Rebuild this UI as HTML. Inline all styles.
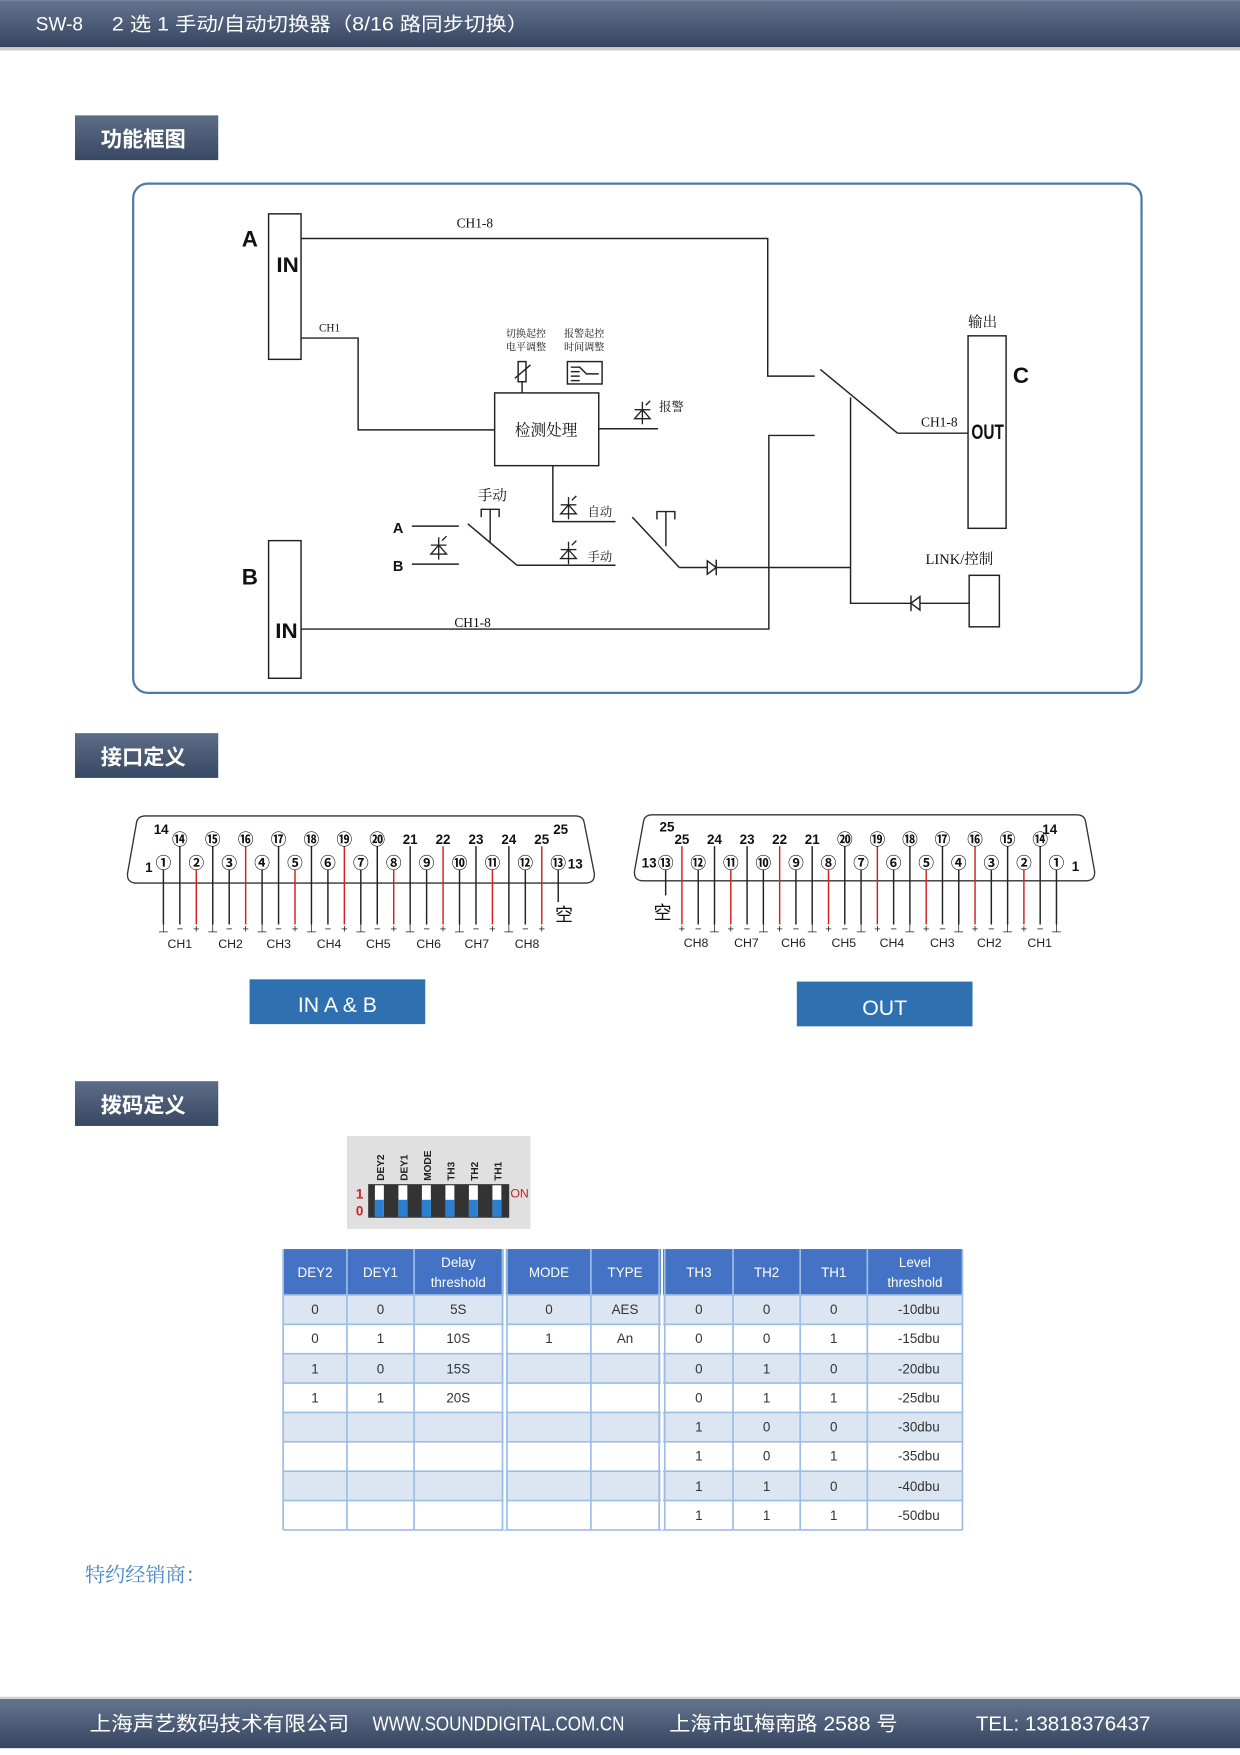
<!DOCTYPE html>
<html><head><meta charset="utf-8"><style>
html,body{margin:0;padding:0;background:#fff;}
svg{display:block;}
.t{font-family:"Liberation Sans","Noto Sans CJK SC",sans-serif;}
.s{font-family:"Liberation Serif","Noto Serif CJK SC",serif;}
.n{font-family:"Liberation Sans Narrow","Liberation Sans","Noto Sans CJK SC",sans-serif;}
</style></head><body>
<svg width="1240" height="1755" viewBox="0 0 1108 1568" xmlns="http://www.w3.org/2000/svg">
<defs>
<linearGradient id="bar" x1="0" y1="0" x2="0" y2="1"><stop offset="0" stop-color="#66758f"/><stop offset="1" stop-color="#36455f"/></linearGradient>
<linearGradient id="sec" x1="0" y1="0" x2="0" y2="1"><stop offset="0" stop-color="#5d6d88"/><stop offset="1" stop-color="#384863"/></linearGradient>
</defs>
<!-- header -->
<rect x="0" y="0" width="1108" height="42" fill="url(#bar)"/>
<rect x="0" y="42" width="1108" height="3" fill="#aaa" opacity="0.6"/>
<text x="32" y="27" class="n" font-size="17" fill="#fff">SW-8</text>
<text x="100" y="27" class="n" font-size="17" fill="#fff" textLength="372" lengthAdjust="spacingAndGlyphs">2 选 1 手动/自动切换器（8/16 路同步切换）</text>
<!-- section boxes -->
<rect x="67" y="103" width="128" height="40" fill="url(#sec)"/>
<text x="90" y="131" class="t" font-size="19" font-weight="bold" fill="#fff">功能框图</text>
<rect x="67" y="655" width="128" height="40" fill="url(#sec)"/>
<text x="90" y="683" class="t" font-size="19" font-weight="bold" fill="#fff">接口定义</text>
<rect x="67" y="966" width="128" height="40" fill="url(#sec)"/>
<text x="90" y="994" class="t" font-size="19" font-weight="bold" fill="#fff">拨码定义</text>

<!-- diagram frame -->
<rect x="119" y="164" width="901" height="455" rx="13" fill="none" stroke="#4f7aa8" stroke-width="2"/>
<g stroke="#222" stroke-width="1.3" fill="none">
<rect x="240" y="191" width="29" height="130"/>
<rect x="240" y="483" width="29" height="123"/>
<rect x="865" y="300" width="34" height="172"/>
<rect x="866" y="514" width="27" height="46"/>
<rect x="442" y="351" width="93" height="65"/>
<polyline points="269,213 686,213 686,336 728,336"/>
<polyline points="269,302 320,302 320,384 442,384"/>
<polyline points="269,562 687,562 687,389 728,389"/>
<line x1="535" y1="383" x2="588" y2="383"/>
<polyline points="494,416 494,466 550,466"/>
<line x1="368" y1="470" x2="410" y2="470"/>
<line x1="368" y1="504" x2="410" y2="504"/>
<line x1="418" y1="468" x2="462" y2="505"/>
<line x1="462" y1="505" x2="550" y2="505"/>
<polyline points="430,462 430,455 446,455 446,462"/>
<line x1="438" y1="455" x2="438" y2="484"/>
<line x1="565" y1="462" x2="607" y2="507"/>
<polyline points="587,464 587,457 603,457 603,464"/>
<line x1="595" y1="457" x2="595" y2="488"/>
<line x1="607" y1="507" x2="760" y2="507"/>
<line x1="733" y1="330" x2="802" y2="387"/>
<line x1="802" y1="387" x2="865" y2="387"/>
<polyline points="760,355 760,539 866,539"/>
<polygon points="632,501 632,513 640,507" fill="#fff"/><line x1="640" y1="500" x2="640" y2="514"/>
<polygon points="822,533 822,545 814,539" fill="#fff"/><line x1="814" y1="532" x2="814" y2="546"/>
<rect x="463" y="323" width="7" height="18"/><line x1="466.5" y1="341" x2="466.5" y2="351"/><line x1="460" y1="338" x2="474" y2="326"/>
<rect x="507" y="323" width="31" height="20"/>
<polyline points="510,328 518,328 524,334 535,334"/><line x1="510" y1="332" x2="518" y2="332"/><line x1="510" y1="336" x2="518" y2="336"/><line x1="510" y1="340" x2="518" y2="340"/>
</g>
<g stroke="#222" stroke-width="1.2" fill="none">
<g transform="translate(574,369)"><line x1="0" y1="-10" x2="0" y2="10"/><line x1="-7" y1="-3" x2="7" y2="-3"/><polygon points="-7,5 7,5 0,-3"/><line x1="3" y1="-7" x2="7" y2="-11"/></g>
<g transform="translate(508,454)"><line x1="0" y1="-10" x2="0" y2="10"/><line x1="-7" y1="-3" x2="7" y2="-3"/><polygon points="-7,5 7,5 0,-3"/><line x1="3" y1="-7" x2="7" y2="-11"/></g>
<g transform="translate(508,494)"><line x1="0" y1="-10" x2="0" y2="10"/><line x1="-7" y1="-3" x2="7" y2="-3"/><polygon points="-7,5 7,5 0,-3"/><line x1="3" y1="-7" x2="7" y2="-11"/></g>
<g transform="translate(392,490)"><line x1="0" y1="-10" x2="0" y2="10"/><line x1="-7" y1="-3" x2="7" y2="-3"/><polygon points="-7,5 7,5 0,-3"/><line x1="3" y1="-7" x2="7" y2="-11"/></g>
</g>
<g fill="#111">
<text x="216" y="220" class="t" font-size="20" font-weight="bold">A</text>
<text x="247" y="243" class="t" font-size="19" font-weight="bold" textLength="20" lengthAdjust="spacingAndGlyphs">IN</text>
<text x="216" y="522" class="t" font-size="20" font-weight="bold">B</text>
<text x="246" y="570" class="t" font-size="19" font-weight="bold" textLength="20" lengthAdjust="spacingAndGlyphs">IN</text>
<text x="868" y="392" class="t" font-size="19" font-weight="bold" textLength="29" lengthAdjust="spacingAndGlyphs">OUT</text>
<text x="905" y="342" class="t" font-size="20" font-weight="bold">C</text>
<text x="865" y="292" class="s" font-size="13">输出</text>
<text x="408" y="203" class="s" font-size="12">CH1-8</text>
<text x="406" y="560" class="s" font-size="12">CH1-8</text>
<text x="823" y="381" class="s" font-size="12">CH1-8</text>
<text x="285" y="296" class="s" font-size="10">CH1</text>
<text x="460" y="389" class="s" font-size="14">检测处理</text>
<text x="452" y="301" class="s" font-size="9">切换起控</text>
<text x="452" y="313" class="s" font-size="9">电平调整</text>
<text x="504" y="301" class="s" font-size="9">报警起控</text>
<text x="504" y="313" class="s" font-size="9">时间调整</text>
<text x="589" y="367" class="s" font-size="11">报警</text>
<text x="525" y="461" class="s" font-size="11">自动</text>
<text x="525" y="501" class="s" font-size="11">手动</text>
<text x="427" y="447" class="s" font-size="13">手动</text>
<text x="351" y="476" class="t" font-size="13" font-weight="bold">A</text>
<text x="351" y="510" class="t" font-size="13" font-weight="bold">B</text>
<text x="827" y="504" class="s" font-size="13">LINK/控制</text>
</g>

<!-- IN connector -->
<path d="M122,789 Q113,789 114,780 L122,735 Q123,729 130,729 L514,729 Q521,729 522,735 L531,780 Q532,789 523,789 Z" fill="none" stroke="#333" stroke-width="1.2"/>
<g stroke="#222" stroke-width="1.3">
<line x1="146" y1="777" x2="146" y2="826"/><line x1="160.7" y1="756" x2="160.7" y2="826"/><line x1="175.4" y1="777" x2="175.4" y2="826" stroke="#d42020"/>
<line x1="190.1" y1="756" x2="190.1" y2="826"/><line x1="204.8" y1="777" x2="204.8" y2="826"/><line x1="219.5" y1="756" x2="219.5" y2="826" stroke="#d42020"/>
<line x1="234.2" y1="777" x2="234.2" y2="826"/><line x1="248.9" y1="756" x2="248.9" y2="826"/><line x1="263.6" y1="777" x2="263.6" y2="826" stroke="#d42020"/>
<line x1="278.3" y1="756" x2="278.3" y2="826"/><line x1="293" y1="777" x2="293" y2="826"/><line x1="307.7" y1="756" x2="307.7" y2="826" stroke="#d42020"/>
<line x1="322.4" y1="777" x2="322.4" y2="826"/><line x1="337.1" y1="756" x2="337.1" y2="826"/><line x1="351.8" y1="777" x2="351.8" y2="826" stroke="#d42020"/>
<line x1="366.5" y1="756" x2="366.5" y2="826"/><line x1="381.2" y1="777" x2="381.2" y2="826"/><line x1="395.9" y1="756" x2="395.9" y2="826" stroke="#d42020"/>
<line x1="410.6" y1="777" x2="410.6" y2="826"/><line x1="425.3" y1="756" x2="425.3" y2="826"/><line x1="440" y1="777" x2="440" y2="826" stroke="#d42020"/>
<line x1="454.7" y1="756" x2="454.7" y2="826"/><line x1="469.4" y1="777" x2="469.4" y2="826"/><line x1="484.1" y1="756" x2="484.1" y2="826" stroke="#d42020"/>
<line x1="498.8" y1="777" x2="498.8" y2="806"/>
</g>
<g class="t" font-size="14" font-weight="bold" fill="#111" text-anchor="middle">
<text x="146" y="776">①</text><text x="175.4" y="776">②</text><text x="204.8" y="776">③</text><text x="234.2" y="776">④</text><text x="263.6" y="776">⑤</text><text x="293" y="776">⑥</text><text x="322.4" y="776">⑦</text><text x="351.8" y="776">⑧</text><text x="381.2" y="776">⑨</text><text x="410.6" y="776">⑩</text><text x="440" y="776">⑪</text><text x="469.4" y="776">⑫</text><text x="498.8" y="776">⑬</text>
<text x="160.7" y="755">⑭</text><text x="190.1" y="755">⑮</text><text x="219.5" y="755">⑯</text><text x="248.9" y="755">⑰</text><text x="278.3" y="755">⑱</text><text x="307.7" y="755">⑲</text><text x="337.1" y="755">⑳</text>
</g>
<g class="t" font-size="12" font-weight="bold" fill="#111" text-anchor="middle">
<text x="366.5" y="754">21</text><text x="395.9" y="754">22</text><text x="425.3" y="754">23</text><text x="454.7" y="754">24</text><text x="484.1" y="754">25</text>
<text x="144" y="745">14</text><text x="501" y="745">25</text><text x="133" y="779">1</text><text x="514" y="776">13</text>
</g>
<text x="496" y="823" class="t" font-size="16" fill="#111">空</text>
<g class="t" font-size="10" fill="#222" text-anchor="middle">
<text x="146" y="833">⊥</text><text x="160.7" y="833">−</text><text x="175.4" y="833">+</text>
<text x="190.1" y="833">⊥</text><text x="204.8" y="833">−</text><text x="219.5" y="833">+</text>
<text x="234.2" y="833">⊥</text><text x="248.9" y="833">−</text><text x="263.6" y="833">+</text>
<text x="278.3" y="833">⊥</text><text x="293" y="833">−</text><text x="307.7" y="833">+</text>
<text x="322.4" y="833">⊥</text><text x="337.1" y="833">−</text><text x="351.8" y="833">+</text>
<text x="366.5" y="833">⊥</text><text x="381.2" y="833">−</text><text x="395.9" y="833">+</text>
<text x="410.6" y="833">⊥</text><text x="425.3" y="833">−</text><text x="440" y="833">+</text>
<text x="454.7" y="833">⊥</text><text x="469.4" y="833">−</text><text x="484.1" y="833">+</text>
</g>
<g class="t" font-size="11" fill="#222" text-anchor="middle">
<text x="160.7" y="847">CH1</text><text x="206" y="847">CH2</text><text x="249" y="847">CH3</text><text x="294" y="847">CH4</text><text x="338" y="847">CH5</text><text x="383" y="847">CH6</text><text x="426" y="847">CH7</text><text x="471" y="847">CH8</text>
</g>

<!-- OUT connector -->
<path d="M575,787 Q566,787 567,778 L575,734 Q576,728 583,728 L962,728 Q969,728 970,734 L978,778 Q979,787 970,787 Z" fill="none" stroke="#333" stroke-width="1.2"/>
<g stroke="#222" stroke-width="1.3">
<line x1="944" y1="777" x2="944" y2="826"/><line x1="929.45" y1="756" x2="929.45" y2="826"/><line x1="914.9" y1="777" x2="914.9" y2="826" stroke="#d42020"/>
<line x1="900.35" y1="756" x2="900.35" y2="826"/><line x1="885.8" y1="777" x2="885.8" y2="826"/><line x1="871.25" y1="756" x2="871.25" y2="826" stroke="#d42020"/>
<line x1="856.7" y1="777" x2="856.7" y2="826"/><line x1="842.15" y1="756" x2="842.15" y2="826"/><line x1="827.6" y1="777" x2="827.6" y2="826" stroke="#d42020"/>
<line x1="813.05" y1="756" x2="813.05" y2="826"/><line x1="798.5" y1="777" x2="798.5" y2="826"/><line x1="783.95" y1="756" x2="783.95" y2="826" stroke="#d42020"/>
<line x1="769.4" y1="777" x2="769.4" y2="826"/><line x1="754.85" y1="756" x2="754.85" y2="826"/><line x1="740.3" y1="777" x2="740.3" y2="826" stroke="#d42020"/>
<line x1="725.75" y1="756" x2="725.75" y2="826"/><line x1="711.2" y1="777" x2="711.2" y2="826"/><line x1="696.65" y1="756" x2="696.65" y2="826" stroke="#d42020"/>
<line x1="682.1" y1="777" x2="682.1" y2="826"/><line x1="667.55" y1="756" x2="667.55" y2="826"/><line x1="653" y1="777" x2="653" y2="826" stroke="#d42020"/>
<line x1="638.45" y1="756" x2="638.45" y2="826"/><line x1="623.9" y1="777" x2="623.9" y2="826"/><line x1="609.35" y1="756" x2="609.35" y2="826" stroke="#d42020"/>
<line x1="594.8" y1="777" x2="594.8" y2="800"/>
</g>
<g class="t" font-size="14" font-weight="bold" fill="#111" text-anchor="middle">
<text x="944" y="776">①</text><text x="914.9" y="776">②</text><text x="885.8" y="776">③</text><text x="856.7" y="776">④</text><text x="827.6" y="776">⑤</text><text x="798.5" y="776">⑥</text><text x="769.4" y="776">⑦</text><text x="740.3" y="776">⑧</text><text x="711.2" y="776">⑨</text><text x="682.1" y="776">⑩</text><text x="653" y="776">⑪</text><text x="623.9" y="776">⑫</text><text x="594.8" y="776">⑬</text>
<text x="929.45" y="755">⑭</text><text x="900.35" y="755">⑮</text><text x="871.25" y="755">⑯</text><text x="842.15" y="755">⑰</text><text x="813.05" y="755">⑱</text><text x="783.95" y="755">⑲</text><text x="754.85" y="755">⑳</text>
</g>
<g class="t" font-size="12" font-weight="bold" fill="#111" text-anchor="middle">
<text x="725.75" y="754">21</text><text x="696.65" y="754">22</text><text x="667.55" y="754">23</text><text x="638.45" y="754">24</text><text x="609.35" y="754">25</text>
<text x="938" y="745">14</text><text x="596" y="743">25</text><text x="961" y="778">1</text><text x="580" y="775">13</text>
</g>
<text x="584" y="821" class="t" font-size="16" fill="#111">空</text>
<g class="t" font-size="10" fill="#222" text-anchor="middle">
<text x="944" y="833">⊥</text><text x="929.45" y="833">−</text><text x="914.9" y="833">+</text>
<text x="900.35" y="833">⊥</text><text x="885.8" y="833">−</text><text x="871.25" y="833">+</text>
<text x="856.7" y="833">⊥</text><text x="842.15" y="833">−</text><text x="827.6" y="833">+</text>
<text x="813.05" y="833">⊥</text><text x="798.5" y="833">−</text><text x="783.95" y="833">+</text>
<text x="769.4" y="833">⊥</text><text x="754.85" y="833">−</text><text x="740.3" y="833">+</text>
<text x="725.75" y="833">⊥</text><text x="711.2" y="833">−</text><text x="696.65" y="833">+</text>
<text x="682.1" y="833">⊥</text><text x="667.55" y="833">−</text><text x="653" y="833">+</text>
<text x="638.45" y="833">⊥</text><text x="623.9" y="833">−</text><text x="609.35" y="833">+</text>
</g>
<g class="t" font-size="11" fill="#222" text-anchor="middle">
<text x="929" y="846">CH1</text><text x="884" y="846">CH2</text><text x="842" y="846">CH3</text><text x="797" y="846">CH4</text><text x="754" y="846">CH5</text><text x="709" y="846">CH6</text><text x="667" y="846">CH7</text><text x="622" y="846">CH8</text>
</g>

<rect x="223" y="875" width="157" height="40" fill="#2f70b1"/>
<text x="301.5" y="904" class="t" font-size="19" fill="#fff" text-anchor="middle">IN A &amp; B</text>
<rect x="712" y="877" width="157" height="40" fill="#2f70b1"/>
<text x="790.5" y="907" class="t" font-size="19" fill="#fff" text-anchor="middle">OUT</text>

<!-- DIP -->
<rect x="310" y="1015" width="164" height="83" fill="#e0e0e0"/>
<rect x="329" y="1058" width="126" height="30" fill="#333"/>
<g>
<rect x="335" y="1059" width="8" height="28" fill="#fff"/><rect x="335" y="1072" width="8" height="15" fill="#2a7fd0"/>
<rect x="356" y="1059" width="8" height="28" fill="#fff"/><rect x="356" y="1072" width="8" height="15" fill="#2a7fd0"/>
<rect x="377" y="1059" width="8" height="28" fill="#fff"/><rect x="377" y="1072" width="8" height="15" fill="#2a7fd0"/>
<rect x="398" y="1059" width="8" height="28" fill="#fff"/><rect x="398" y="1072" width="8" height="15" fill="#2a7fd0"/>
<rect x="419" y="1059" width="8" height="28" fill="#fff"/><rect x="419" y="1072" width="8" height="15" fill="#2a7fd0"/>
<rect x="440" y="1059" width="8" height="28" fill="#fff"/><rect x="440" y="1072" width="8" height="15" fill="#2a7fd0"/>
</g>
<g class="t" font-size="9" font-weight="bold" fill="#222">
<text transform="translate(343,1055) rotate(-90)">DEY2</text>
<text transform="translate(364,1055) rotate(-90)">DEY1</text>
<text transform="translate(385,1055) rotate(-90)">MODE</text>
<text transform="translate(406,1055) rotate(-90)">TH3</text>
<text transform="translate(427,1055) rotate(-90)">TH2</text>
<text transform="translate(448,1055) rotate(-90)">TH1</text>
</g>
<text x="318" y="1071" class="t" font-size="12" font-weight="bold" fill="#d42020">1</text>
<text x="318" y="1086" class="t" font-size="12" font-weight="bold" fill="#d42020">0</text>
<text x="456" y="1070" class="n" font-size="11" fill="#d42020">ON</text>

<!-- table -->
<rect x="253" y="1116" width="607" height="41" fill="#4472c4"/>
<g fill="#dce6f2">
<rect x="253" y="1157" width="607" height="26.25"/>
<rect x="253" y="1209.5" width="607" height="26.25"/>
<rect x="253" y="1262" width="607" height="26.25"/>
<rect x="253" y="1314.5" width="607" height="26.25"/>
</g>
<g stroke="#9cbde6" stroke-width="1.5">
<line x1="253" y1="1157" x2="860" y2="1157"/><line x1="253" y1="1183.25" x2="860" y2="1183.25"/><line x1="253" y1="1209.5" x2="860" y2="1209.5"/><line x1="253" y1="1235.75" x2="860" y2="1235.75"/><line x1="253" y1="1262" x2="860" y2="1262"/><line x1="253" y1="1288.25" x2="860" y2="1288.25"/><line x1="253" y1="1314.5" x2="860" y2="1314.5"/><line x1="253" y1="1340.75" x2="860" y2="1340.75"/><line x1="253" y1="1367" x2="860" y2="1367"/>
<line x1="253" y1="1116" x2="253" y2="1367"/><line x1="310" y1="1116" x2="310" y2="1367"/><line x1="370" y1="1116" x2="370" y2="1367"/><line x1="449" y1="1116" x2="449" y2="1367"/><line x1="453" y1="1116" x2="453" y2="1367"/><line x1="528" y1="1116" x2="528" y2="1367"/><line x1="589" y1="1116" x2="589" y2="1367"/><line x1="594" y1="1116" x2="594" y2="1367"/><line x1="655" y1="1116" x2="655" y2="1367"/><line x1="715" y1="1116" x2="715" y2="1367"/><line x1="775" y1="1116" x2="775" y2="1367"/><line x1="860" y1="1116" x2="860" y2="1367"/>
</g>
<rect x="450" y="1116" width="2" height="251" fill="#fff"/><rect x="590.5" y="1116" width="2" height="251" fill="#fff"/>
<g class="n" font-size="12" fill="#fff" text-anchor="middle">
<text x="281.5" y="1141">DEY2</text><text x="340" y="1141">DEY1</text><text x="409.5" y="1132">Delay</text><text x="409.5" y="1150">threshold</text>
<text x="490.5" y="1141">MODE</text><text x="558.5" y="1141">TYPE</text>
<text x="624.5" y="1141">TH3</text><text x="685" y="1141">TH2</text><text x="745" y="1141">TH1</text><text x="817.5" y="1132">Level</text><text x="817.5" y="1150">threshold</text>
</g>
<g class="n" font-size="12" fill="#333" text-anchor="middle">
<text x="281.5" y="1174">0</text><text x="340" y="1174">0</text><text x="409.5" y="1174">5S</text><text x="490.5" y="1174">0</text><text x="558.5" y="1174">AES</text><text x="624.5" y="1174">0</text><text x="685" y="1174">0</text><text x="745" y="1174">0</text><text x="821" y="1174">-10dbu</text>
<text x="281.5" y="1200">0</text><text x="340" y="1200">1</text><text x="409.5" y="1200">10S</text><text x="490.5" y="1200">1</text><text x="558.5" y="1200">An</text><text x="624.5" y="1200">0</text><text x="685" y="1200">0</text><text x="745" y="1200">1</text><text x="821" y="1200">-15dbu</text>
<text x="281.5" y="1227">1</text><text x="340" y="1227">0</text><text x="409.5" y="1227">15S</text><text x="624.5" y="1227">0</text><text x="685" y="1227">1</text><text x="745" y="1227">0</text><text x="821" y="1227">-20dbu</text>
<text x="281.5" y="1253">1</text><text x="340" y="1253">1</text><text x="409.5" y="1253">20S</text><text x="624.5" y="1253">0</text><text x="685" y="1253">1</text><text x="745" y="1253">1</text><text x="821" y="1253">-25dbu</text>
<text x="624.5" y="1279">1</text><text x="685" y="1279">0</text><text x="745" y="1279">0</text><text x="821" y="1279">-30dbu</text>
<text x="624.5" y="1305">1</text><text x="685" y="1305">0</text><text x="745" y="1305">1</text><text x="821" y="1305">-35dbu</text>
<text x="624.5" y="1332">1</text><text x="685" y="1332">1</text><text x="745" y="1332">0</text><text x="821" y="1332">-40dbu</text>
<text x="624.5" y="1358">1</text><text x="685" y="1358">1</text><text x="745" y="1358">1</text><text x="821" y="1358">-50dbu</text>
</g>

<text x="76" y="1413" class="s" font-size="18" fill="#4a86c5">特约经销商：</text>

<!-- footer -->
<rect x="0" y="1516" width="1108" height="3" fill="#bbb" opacity="0.6"/>
<rect x="0" y="1518" width="1108" height="44" fill="url(#bar)"/>
<g class="n" font-size="18" fill="#fff">
<text x="80" y="1546" textLength="232" lengthAdjust="spacingAndGlyphs">上海声艺数码技术有限公司</text>
<text x="333" y="1546" textLength="225" lengthAdjust="spacingAndGlyphs">WWW.SOUNDDIGITAL.COM.CN</text>
<text x="598" y="1546" textLength="204" lengthAdjust="spacingAndGlyphs">上海市虹梅南路 2588 号</text>
<text x="872" y="1546" textLength="156" lengthAdjust="spacingAndGlyphs">TEL: 13818376437</text>
</g>
</svg>
</body></html>
